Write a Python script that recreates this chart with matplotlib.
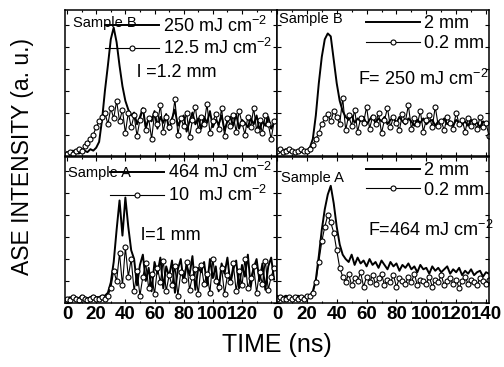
import numpy as np
import matplotlib.pyplot as plt
from matplotlib.ticker import MultipleLocator

plt.rcParams['font.family'] = ['Liberation Sans', 'DejaVu Sans']
plt.rcParams['mathtext.fontset'] = 'custom'
plt.rcParams['mathtext.rm'] = 'Liberation Sans'
plt.rcParams['mathtext.it'] = 'Liberation Sans'

t = np.arange(0, 143, 2)  # time (ns)

# Sample B, l = 1.2 mm
b_250 = [0.03, 0.02, 0.04, 0.03, 0.02, 0.03, 0.04, 0.03, 0.05, 0.04, 0.06,
         0.10, 0.25, 0.45, 0.62, 0.80, 0.88, 0.78, 0.62, 0.48, 0.38, 0.32, 0.28,
         0.30, 0.22, 0.27, 0.33, 0.20, 0.26, 0.24, 0.31, 0.19, 0.27,
         0.23, 0.29, 0.18, 0.26, 0.32, 0.21, 0.25, 0.28, 0.17, 0.24,
         0.30, 0.22, 0.26, 0.19, 0.27, 0.23, 0.31, 0.20, 0.25, 0.22,
         0.28, 0.18, 0.24, 0.27, 0.21, 0.29, 0.19, 0.25, 0.23, 0.20,
         0.26, 0.22, 0.28, 0.18, 0.24, 0.21, 0.27, 0.19, 0.23]
b_12 = [0.02, 0.03, 0.02, 0.04, 0.05, 0.04, 0.07, 0.09, 0.12, 0.15, 0.20,
        0.24, 0.27, 0.30, 0.22, 0.33, 0.26, 0.38, 0.24, 0.32, 0.16, 0.30, 0.20,
        0.28, 0.14, 0.25, 0.32, 0.18, 0.26, 0.12, 0.29, 0.22, 0.35,
        0.17, 0.27, 0.20, 0.24, 0.39, 0.15, 0.26, 0.21, 0.30, 0.13,
        0.25, 0.34, 0.18, 0.27, 0.22, 0.36, 0.16, 0.24, 0.29, 0.19,
        0.33, 0.14, 0.26, 0.21, 0.28, 0.17, 0.31, 0.23, 0.15, 0.27,
        0.20, 0.33, 0.18, 0.25, 0.16, 0.28, 0.22, 0.12, 0.24]

# Sample B, F = 250 mJ cm-2
b_2mm = [0.04, 0.03, 0.04, 0.05, 0.03, 0.04, 0.03, 0.04, 0.03, 0.04, 0.04,
         0.06, 0.12, 0.28, 0.50, 0.68, 0.80, 0.84, 0.82, 0.66, 0.50, 0.38, 0.31,
         0.27, 0.25, 0.28, 0.23, 0.26, 0.24, 0.27, 0.22, 0.25, 0.28,
         0.23, 0.26, 0.24, 0.27, 0.22, 0.25, 0.26, 0.23, 0.27, 0.24,
         0.22, 0.26, 0.24, 0.21, 0.25, 0.23, 0.26, 0.22, 0.24, 0.25,
         0.21, 0.24, 0.23, 0.26, 0.22, 0.24, 0.21, 0.25, 0.23, 0.22,
         0.24, 0.21, 0.25, 0.22, 0.23, 0.20, 0.24, 0.22, 0.23]
b_02mm = [0.04, 0.05, 0.03, 0.04, 0.05, 0.04, 0.03, 0.04, 0.05, 0.04, 0.04,
          0.05, 0.08, 0.12, 0.16, 0.22, 0.26, 0.29, 0.24, 0.31, 0.27, 0.22, 0.40,
          0.18, 0.28, 0.21, 0.32, 0.17, 0.26, 0.23, 0.34, 0.19, 0.27,
          0.22, 0.30, 0.16, 0.25, 0.33, 0.20, 0.27, 0.23, 0.18, 0.29,
          0.24, 0.35, 0.19, 0.26, 0.22, 0.31, 0.17, 0.25, 0.28, 0.20,
          0.34, 0.21, 0.24, 0.18, 0.27, 0.23, 0.19, 0.30, 0.22, 0.25,
          0.17, 0.26, 0.21, 0.24, 0.19, 0.27, 0.20, 0.23, 0.14]

# Sample A, l = 1 mm
a_464 = [0.03, 0.04, 0.03, 0.04, 0.03, 0.05, 0.04, 0.03, 0.04, 0.05, 0.04,
         0.04, 0.05, 0.05, 0.07, 0.14, 0.28, 0.50, 0.70, 0.46, 0.72, 0.52, 0.36,
         0.30, 0.12, 0.26, 0.33, 0.15, 0.24, 0.08, 0.28, 0.20, 0.31,
         0.10, 0.25, 0.18, 0.29, 0.07, 0.23, 0.30, 0.14, 0.26, 0.19,
         0.32, 0.09, 0.24, 0.21, 0.28, 0.12, 0.30, 0.17, 0.25, 0.08,
         0.27, 0.20, 0.31, 0.13, 0.23, 0.29, 0.10, 0.26, 0.18, 0.33,
         0.11, 0.24, 0.30, 0.15, 0.27, 0.09, 0.25, 0.31, 0.16]
a_10 = [0.03, 0.02, 0.04, 0.03, 0.02, 0.04, 0.03, 0.02, 0.03, 0.04, 0.03,
        0.03, 0.04, 0.03, 0.05, 0.10, 0.22, 0.15, 0.34, 0.12, 0.38, 0.18, 0.30,
        0.08, 0.22, 0.05, 0.18, 0.27, 0.10, 0.20, 0.06, 0.24, 0.14,
        0.29, 0.08, 0.19, 0.12, 0.25, 0.05, 0.21, 0.16, 0.28, 0.09,
        0.18, 0.23, 0.06, 0.26, 0.13, 0.20, 0.07, 0.30, 0.15, 0.11,
        0.24, 0.06, 0.19, 0.14, 0.27, 0.08, 0.22, 0.12, 0.30, 0.10,
        0.17, 0.25, 0.07, 0.21, 0.13, 0.29, 0.09, 0.18, 0.24]

# Sample A, F = 464 mJ cm-2
a_2mm = [0.05, 0.04, 0.04, 0.05, 0.04, 0.03, 0.04, 0.05, 0.04, 0.04, 0.05,
         0.05, 0.08, 0.16, 0.32, 0.50, 0.64, 0.74, 0.80, 0.68, 0.52, 0.40, 0.33,
         0.30, 0.28, 0.33, 0.26, 0.31, 0.27, 0.29, 0.25, 0.30, 0.26,
         0.28, 0.24, 0.29, 0.26, 0.23, 0.28, 0.25, 0.27, 0.22, 0.26,
         0.24, 0.27, 0.23, 0.25, 0.21, 0.26, 0.23, 0.24, 0.20, 0.25,
         0.22, 0.24, 0.21, 0.23, 0.25, 0.20, 0.23, 0.21, 0.24, 0.19,
         0.22, 0.20, 0.23, 0.19, 0.21, 0.22, 0.18, 0.21, 0.20]
a_02mm = [0.03, 0.04, 0.03, 0.03, 0.04, 0.03, 0.04, 0.03, 0.04, 0.03, 0.05,
          0.05, 0.07, 0.14, 0.28, 0.42, 0.52, 0.60, 0.55, 0.48, 0.36, 0.24, 0.18,
          0.14, 0.20, 0.12, 0.17, 0.15, 0.21, 0.11, 0.18, 0.14, 0.19,
          0.13, 0.17, 0.20, 0.12, 0.16, 0.14, 0.19, 0.11, 0.17, 0.15,
          0.13, 0.18, 0.14, 0.20, 0.12, 0.16, 0.15, 0.13, 0.18, 0.11,
          0.16, 0.14, 0.19, 0.12, 0.15, 0.17, 0.13, 0.16, 0.10, 0.15,
          0.18, 0.13, 0.16, 0.14, 0.12, 0.17, 0.15, 0.13, 0.16]

panels = [
    (0, 0, b_250, b_12, '250 mJ cm$^{-2}$', '12.5 mJ cm$^{-2}$', 'Sample B', 'l =1.2 mm'),
    (0, 1, b_2mm, b_02mm, '2 mm', '0.2 mm', 'Sample B', 'F= 250 mJ cm$^{-2}$'),
    (1, 0, a_464, a_10, '464 mJ cm$^{-2}$', '10  mJ cm$^{-2}$', 'Sample A', 'l=1 mm'),
    (1, 1, a_2mm, a_02mm, '2 mm', '0.2 mm', 'Sample A', 'F=464 mJ cm$^{-2}$'),
]
note_pos = {(0, 0): (0.34, 0.575), (0, 1): (0.38, 0.53),
            (1, 0): (0.36, 0.46), (1, 1): (0.43, 0.50)}
sample_pos = {(0, 0): (0.04, 0.91), (0, 1): (0.01, 0.94),
              (1, 0): (0.015, 0.89), (1, 1): (0.02, 0.85)}

fig, axes = plt.subplots(2, 2, figsize=(5.04, 3.67), dpi=100)
plt.subplots_adjust(left=65/504, right=489/504, top=1-10/367, bottom=1-303/367,
                    wspace=0, hspace=0)

for r, c, solid, circ, lab1, lab2, samp, note in panels:
    ax = axes[r, c]
    ax.plot(t, solid, color='black', lw=1.4, label=lab1)
    ax.plot(t, circ, color='black', lw=0.8, marker='o', ms=3.6,
            mfc='white', mec='black', mew=0.8, label=lab2)
    ax.set_ylim(0, 1)
    if c == 0:
        ax.set_xlim(-1.4, 144)
        ax.set_xticks(range(0, 121, 20))
    else:
        ax.set_xlim(0, 142)
        ax.set_xticks(range(0, 141, 20))
    ax.xaxis.set_minor_locator(MultipleLocator(10))
    ax.yaxis.set_major_locator(MultipleLocator(0.15))
    ax.set_yticklabels([])
    ax.tick_params(which='both', direction='in', top=True, right=True,
                   length=3, width=0.8)
    ax.tick_params(which='minor', length=1.5)
    ax.tick_params(axis='x', labelsize=13.5, pad=2)
    for lbl in ax.get_xticklabels():
        lbl.set_fontweight('bold')
    if r == 0:
        ax.set_xticklabels([])
    for sp in ax.spines.values():
        sp.set_linewidth(1.1)
    ax.legend(loc='upper right', frameon=False, fontsize=13,
              handlelength=3.0, handletextpad=0.2, labelspacing=0.15,
              borderaxespad=0.1, borderpad=0.2)
    sx, sy = sample_pos[(r, c)]
    ax.text(sx, sy, samp, transform=ax.transAxes, fontsize=10.5, va='center')
    nx, ny = note_pos[(r, c)]
    ax.text(nx, ny, note, transform=ax.transAxes, fontsize=13, va='center')

fig.text(0.045, (1-10/367 + 1-303/367)/2, 'ASE INTENSITY (a. u.)', rotation=90,
         fontsize=16.5, va='center', ha='center')
fig.text((65/504 + 489/504)/2, 0.06, 'TIME (ns)', fontsize=18,
         ha='center', va='center')

plt.savefig('out.png', dpi=100)
